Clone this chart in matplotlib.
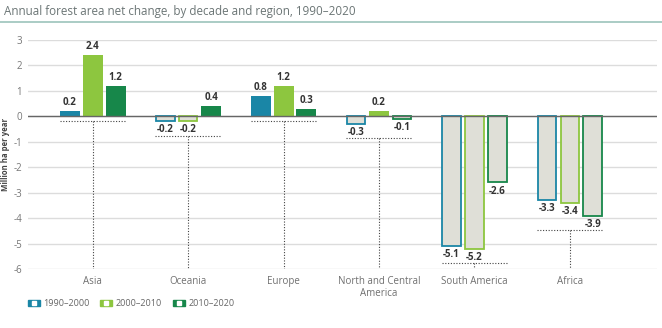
import matplotlib
matplotlib.use('Agg')
from matplotlib import pyplot as plt
from matplotlib.patches import Rectangle
from matplotlib.lines import Line2D
from matplotlib.legend_handler import HandlerTuple
import numpy as np

regions = ['Asia', 'Oceania', 'Europe', 'North and Central\nAmerica', 'South America', 'Africa']
decades = ['1990\u20132000', '2000\u20132010', '2010\u20132020']
d1990 = [0.2, -0.2, 0.8, -0.3, -5.1, -3.3]
d2000 = [2.4, -0.2, 1.2, 0.2, -5.2, -3.4]
d2010 = [1.2, 0.4, 0.3, -0.1, -2.6, -3.9]
series = [d1990, d2000, d2010]
colors = ['#1a86a6', '#8dc63f', '#17874a']
loss_fill = '#dfdfd7'
yticks = [3, 2, 1, 0, -1, -2, -3, -4, -5, -6]

plt.rcParams['font.family'] = ['Open Sans', 'DejaVu Sans']

fig = plt.figure(figsize=(6.62, 3.28), dpi=100)
ax = fig.add_axes([0.042, 0.18, 0.95, 0.698])

x = np.arange(len(regions))
width = 0.21
step = 0.24

for k, vals in enumerate(series):
    pos = x + (k - 1) * step
    for xi, v in zip(pos, vals):
        if v >= 0:
            ax.bar(xi, v, width, color=colors[k], zorder=3)
            ax.text(xi, v + 0.12, f'{v:.1f}', ha='center', va='bottom',
                    fontsize=7, fontweight='bold', color='#333333')
        else:
            ax.bar(xi, v, width * 0.93, facecolor=loss_fill, edgecolor=colors[k],
                   linewidth=1.3, zorder=3)
            ax.text(xi, v - 0.12, f'{v:.1f}', ha='center', va='top',
                    fontsize=7, fontweight='bold', color='#333333')

# dotted bracket under each group, with a leader down to the region name
for i in range(len(regions)):
    low = min(d1990[i], d2000[i], d2010[i], 0)
    yb = -0.2 if low == 0 else low - 0.57
    ax.plot([x[i] - step - width / 2, x[i] + step + width / 2], [yb, yb],
            ls=(0, (1, 1.5)), color='#444444', lw=0.8, zorder=4)
    ax.plot([x[i], x[i]], [yb, -6], ls=(0, (1, 1.5)), color='#444444', lw=0.8, zorder=4)

ax.set_xlim(-0.68, 5.91)
ax.set_ylim(-6, 3)
ax.set_yticks(yticks)
ax.set_yticklabels([str(t) for t in yticks], fontsize=7, color='#777777')
ax.set_xticks(x)
ax.set_xticklabels(regions, fontsize=7, color='#707070', linespacing=1.1)
ax.tick_params(length=0)
ax.tick_params(axis='y', pad=4)
ax.tick_params(axis='x', pad=5)
ax.grid(axis='y', color='#dcdcdc', lw=1, zorder=0)
ax.axhline(0, color='#666666', lw=1, zorder=5)
for s in ax.spines.values():
    s.set_visible(False)

fig.text(0.009, 0.53, 'Million ha per year', fontsize=5.6, fontweight='bold',
         color='#444444', rotation=90, ha='center', va='center')

fig.text(0.006, 0.965, 'Annual forest area net change, by decade and region, 1990\u20132020',
         fontsize=8.4, color='#6b7575', va='center')
fig.add_artist(Line2D([0, 1], [0.934, 0.934], color='#9cc3bb', lw=1.2,
                      transform=fig.transFigure))

handles = []
for c in colors:
    handles.append((Rectangle((0, 0), 1, 1, color=c),
                    Line2D([], [], marker='s', ls='', markersize=2.2,
                           markerfacecolor='white', markeredgecolor='white')))
fig.legend(handles, decades, handler_map={tuple: HandlerTuple(ndivide=1, pad=0)},
           loc='lower left', bbox_to_anchor=(0.042, 0.06), ncol=3, frameon=False,
           fontsize=6.5, handlelength=1.3, handleheight=0.55, columnspacing=1.2,
           handletextpad=0.4, labelcolor='#666666', borderaxespad=0, borderpad=0)

plt.savefig('out.png', dpi=100)
